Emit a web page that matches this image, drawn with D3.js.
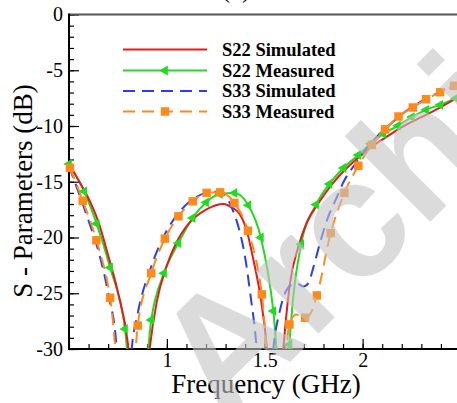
<!DOCTYPE html>
<html><head><meta charset="utf-8">
<script src="https://cdn.jsdelivr.net/npm/d3@7"></script>
<style>body{margin:0;background:#fff}svg{display:block}</style>
</head><body>
<svg id="c" width="457" height="403"></svg>
<script>
// ---------------- data ----------------
const seriesNames = ["S22 Simulated", "S22 Measured", "S33 Simulated", "S33 Measured"];
const yTickValues = [0, -5, -10, -15, -20, -25, -30];
const xTickLabels = [1, 1.5, 2];

// S22 simulated (red)
const s22SimFreq = [0.50,0.55,0.60,0.65,0.70,0.75,0.80,0.83,0.855,0.88,0.91,0.948,1.00,1.05,1.10,1.15,1.20,1.25,1.29,1.33,1.374,1.41,1.442,1.48,1.51,1.55,1.595,1.629,1.672,1.714,1.775,1.84,1.90,1.98,2.05,2.12,2.20,2.30,2.40,2.50];
const s22SimDb   = [-13.4,-14.9,-16.5,-18.6,-21.6,-24.9,-29.4,-35,-42,-36,-30.3,-25.8,-22.5,-20.4,-19.0,-18.1,-17.5,-17.1,-17.0,-17.3,-17.95,-19.5,-22.0,-25.5,-29.8,-42,-30,-24.1,-20.8,-18.7,-16.9,-15.3,-14.1,-12.8,-11.8,-11.0,-10.1,-9.2,-8.3,-7.3];

// S22 measured (green) – marker points
const s22MeasFreq = [0.50,0.577,0.641,0.71,0.786,0.92,0.985,1.059,1.131,1.20,1.27,1.345,1.416,1.48,1.544,1.626,1.686,1.762,1.83,1.902,1.978,2.04,2.106,2.18,2.251,2.324,2.396,2.477];
const s22MeasDb   = [-13.4,-15.86,-18.76,-22.7,-28.2,-27.4,-23.2,-20.5,-18.25,-16.85,-16.1,-16.0,-17.1,-20.0,-26.6,-29.6,-20.6,-17.05,-15.2,-13.77,-12.6,-11.6,-10.7,-9.98,-9.2,-8.55,-8.1,-7.5];
// S22 measured – extra line points (no marker)
const s22MeasLineFreq = [0.85, 1.60];
const s22MeasLineDb   = [-40, -38];

// S33 simulated (blue dashed)
const s33SimFreq = [0.50,0.55,0.60,0.65,0.70,0.744,0.78,0.82,0.85,0.92,0.99,1.06,1.13,1.20,1.246,1.29,1.34,1.374,1.40,1.425,1.459,1.50,1.544,1.578,1.612,1.646,1.672,1.697,1.723,1.748,1.782,1.825,1.868,1.90,1.95,2.00,2.05,2.10,2.15,2.20,2.30,2.40,2.50];
const s33SimDb   = [-13.6,-16.0,-18.5,-21.2,-25.0,-30,-42,-30,-26.9,-22.6,-19.7,-17.8,-16.6,-16.0,-15.9,-16.1,-17.7,-19.6,-21.8,-24.9,-30,-42,-30,-26.5,-24.7,-24.2,-24.2,-24.4,-24.1,-22.7,-20.5,-18.1,-16.4,-15.1,-13.7,-12.5,-11.4,-10.5,-9.7,-8.95,-7.8,-6.9,-6.1];

// S33 measured (orange) – marker points
const s33MeasFreq = [0.505,0.57,0.64,0.71,0.851,0.92,0.99,1.059,1.132,1.203,1.272,1.345,1.414,1.485,1.626,1.706,1.766,1.837,1.907,1.978,2.047,2.115,2.183,2.256,2.324,2.396,2.467];
const s33MeasDb   = [-13.75,-16.7,-20.25,-25.4,-27.9,-23.2,-20.1,-18.1,-16.76,-16.0,-15.95,-16.9,-19.4,-25.1,-27.8,-27.2,-25.2,-19.6,-16.0,-13.56,-11.7,-10.3,-9.15,-8.34,-7.6,-6.97,-6.4];
// S33 measured – extra line points (no marker)
const s33MeasLineFreq = [0.80, 1.56, 1.66, 1.731];
const s33MeasLineDb   = [-40, -40, -26.9, -26.9];

// ---------------- chart ----------------
const svg = d3.select("#c");
const W = 457, H = 403;
const x = d3.scaleLinear().domain([0.5, 2.5]).range([69, 460.5]);
const y = d3.scaleLinear().domain([-30, 0]).range([349, 14.5]);

const colors = {red:"#e41a1c", green:"#1fdc1f", blue:"#2a3ef0", orange:"#ff8a1a"};

function pts(f, v){ return f.map((d,i)=>({f:d, v:v[i]})); }
function merged(f, v, f2, v2){ return pts(f,v).concat(pts(f2,v2)).sort((a,b)=>a.f-b.f); }

svg.append("defs").append("clipPath").attr("id","plot")
  .append("rect").attr("x", x(0.5)).attr("y", y(0)).attr("width", x(2.5)-x(0.5)).attr("height", y(-30)-y(0));

// watermark
const wm = svg.append("text")
  .attr("transform","translate(225,427) rotate(-45)")
  .attr("font-family","Liberation Sans, Arial, sans-serif")
  .attr("font-weight","bold")
  .attr("font-size",167)
  .attr("fill","#c4c4c4")
  .attr("opacity",0.6)
  .text("Archive");

// title (cropped)
svg.append("text").attr("x",236).attr("y",-2).attr("text-anchor","middle")
  .attr("font-family","Liberation Serif, Times New Roman, serif").attr("font-size",24).text("(b)");

// axes
const serif = "Liberation Serif, Times New Roman, serif";
const xMinor = d3.range(0.5, 2.51, 0.1);
const yMinor = d3.range(-30, 0.01, 1);

const gx = svg.append("g").attr("transform",`translate(0,${y(-30)})`);
gx.call(d3.axisBottom(x).tickValues(xMinor).tickSize(-5).tickSizeOuter(0).tickFormat(""));
gx.select(".domain").remove();
const gx2 = svg.append("g").attr("transform",`translate(0,${y(-30)})`);
gx2.call(d3.axisBottom(x).tickValues(xTickLabels).tickSize(-10).tickSizeOuter(0).tickPadding(4).tickFormat(d3.format("")));
gx2.select(".domain").remove();
gx2.selectAll("text").attr("font-family",serif).attr("font-size",20).attr("fill","#000");

const gy = svg.append("g").attr("transform",`translate(${x(0.5)},0)`);
gy.call(d3.axisLeft(y).tickValues(yMinor).tickSize(-5).tickSizeOuter(0).tickFormat(""));
gy.select(".domain").remove();
const gy2 = svg.append("g").attr("transform",`translate(${x(0.5)},0)`);
gy2.call(d3.axisLeft(y).tickValues(yTickValues).tickSize(-10).tickSizeOuter(0).tickPadding(6).tickFormat(d=>String(d)));
gy2.select(".domain").remove();
gy2.selectAll("text").attr("font-family",serif).attr("font-size",20).attr("fill","#000");
svg.selectAll(".tick line").attr("stroke","#000").attr("stroke-width",1.2);

// frame lines
svg.append("line").attr("x1",x(0.5)).attr("x2",W).attr("y1",y(0)).attr("y2",y(0)).attr("stroke","#555").attr("stroke-width",2);
svg.append("line").attr("x1",x(0.5)).attr("x2",x(0.5)).attr("y1",y(0)-1).attr("y2",y(-30)+1).attr("stroke","#000").attr("stroke-width",2);
svg.append("line").attr("x1",x(0.5)-1).attr("x2",W).attr("y1",y(-30)).attr("y2",y(-30)).attr("stroke","#000").attr("stroke-width",2);

// axis titles
svg.append("text").attr("x",266).attr("y",393).attr("text-anchor","middle")
  .attr("font-family",serif).attr("font-size",27).text("Frequency (GHz)");
svg.append("text").attr("transform","translate(32,191) rotate(-90)").attr("text-anchor","middle")
  .attr("font-family",serif).attr("font-size",27).text("S - Parameters (dB)");

// curves
const line = d3.line().x(d=>x(d.f)).y(d=>y(d.v)).curve(d3.curveMonotoneX);
const plot = svg.append("g").attr("clip-path","url(#plot)");

plot.append("path").datum(merged(s22MeasFreq,s22MeasDb,s22MeasLineFreq,s22MeasLineDb))
  .attr("d",line).attr("fill","none").attr("stroke",colors.green).attr("stroke-width",2);
plot.append("path").datum(pts(s22SimFreq,s22SimDb))
  .attr("d",line).attr("fill","none").attr("stroke",colors.red).attr("stroke-width",2);
plot.append("path").datum(pts(s33SimFreq,s33SimDb))
  .attr("d",line).attr("fill","none").attr("stroke",colors.blue).attr("stroke-width",2).attr("stroke-dasharray","12,7");
plot.append("path").datum(merged(s33MeasFreq,s33MeasDb,s33MeasLineFreq,s33MeasLineDb))
  .attr("d",line).attr("fill","none").attr("stroke",colors.orange).attr("stroke-width",2).attr("stroke-dasharray","12,7");

const tri = d3.symbol().type(d3.symbolTriangle).size(42);
const sq = d3.symbol().type(d3.symbolSquare).size(72);
svg.append("g").selectAll("path").data(pts(s22MeasFreq,s22MeasDb)).join("path")
  .attr("d",tri).attr("transform",d=>`translate(${x(d.f)},${y(d.v)}) rotate(-90)`).attr("fill",colors.green);
svg.append("g").selectAll("path").data(pts(s33MeasFreq,s33MeasDb)).join("path")
  .attr("d",sq).attr("transform",d=>`translate(${x(d.f)},${y(d.v)})`).attr("fill",colors.orange);

// legend
const legRows = [49.5, 70.5, 91, 111.5];
const legStyles = [
  {c:colors.red, dash:null, m:null},
  {c:colors.green, dash:null, m:"tri"},
  {c:colors.blue, dash:"12,7", m:null},
  {c:colors.orange, dash:"12,7", m:"sq"}
];
const leg = svg.append("g");
seriesNames.forEach((name,i)=>{
  const s = legStyles[i], yy = legRows[i];
  leg.append("line").attr("x1",123).attr("x2",207).attr("y1",yy).attr("y2",yy)
    .attr("stroke",s.c).attr("stroke-width",2).attr("stroke-dasharray",s.dash);
  if(s.m==="tri") leg.append("path").attr("d",tri).attr("transform",`translate(165,${yy}) rotate(-90)`).attr("fill",s.c);
  if(s.m==="sq") leg.append("path").attr("d",sq).attr("transform",`translate(165,${yy})`).attr("fill",s.c);
  leg.append("text").attr("x",222).attr("y",yy+6).attr("font-family",serif).attr("font-weight","bold")
    .attr("font-size",18.5).text(name);
});
wm.raise();
</script>
</body></html>
